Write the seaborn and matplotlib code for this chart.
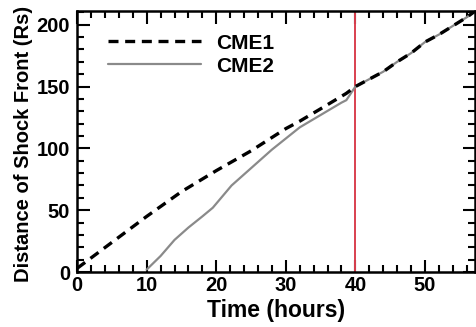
import numpy as np
import pandas as pd
import matplotlib
matplotlib.use("Agg")
import matplotlib.pyplot as plt
from matplotlib.ticker import MultipleLocator
import seaborn as sns

# Shock-front distance (solar radii) versus time since onset (hours)
cme1_time = [0, 5, 10, 15, 20, 25, 30, 32, 35, 38.7, 40, 42, 44, 46, 48, 50, 52, 54, 56, 57.2]
cme1_dist = [3, 24, 45, 65, 82, 98, 116, 122, 132, 144.5, 150, 156, 162, 170, 177, 186, 192, 199, 206, 211]

cme2_time = [10, 12, 14, 16, 18, 19.5, 21, 22.2, 25, 28, 30, 32, 35, 38, 38.7, 40,
             42, 44, 46, 48, 50, 52, 54, 56, 57.2]
cme2_dist = [2, 13, 26, 36, 45, 52, 62, 70, 84, 99, 108, 117, 127, 137, 139, 150,
             156, 162, 170, 177, 186, 192, 199, 206, 211]

arrival_time = 40
x_ticks = [0, 10, 20, 30, 40, 50]
y_ticks = [0, 50, 100, 150, 200]

sns.set_style("ticks", {"axes.edgecolor": "black", "text.color": "black",
                        "axes.labelcolor": "black", "xtick.color": "black",
                        "ytick.color": "black"})
plt.rcParams["font.family"] = ["Liberation Sans", "DejaVu Sans"]
plt.rcParams["font.weight"] = "bold"

df1 = pd.DataFrame({"time": cme1_time, "dist": cme1_dist})
df2 = pd.DataFrame({"time": cme2_time, "dist": cme2_dist})

fig = plt.figure(figsize=(4.76, 3.27), dpi=100)
ax = fig.add_axes([0.162, 0.168, 0.836, 0.798])

sns.lineplot(data=df2, x="time", y="dist", ax=ax, color="#8a8a8a", lw=1.6,
             label="CME2", zorder=2)
sns.lineplot(data=df1, x="time", y="dist", ax=ax, color="black", lw=2.4,
             label="CME1", zorder=3)
ax.lines[1].set_dashes([3.0, 2.0])
ax.axvline(arrival_time, color="#d9404f", lw=1.4, zorder=1)

ax.set_xlim(0, 57.2)
ax.set_ylim(0, 211)
ax.set_xticks(x_ticks)
ax.set_yticks(y_ticks)
ax.xaxis.set_minor_locator(MultipleLocator(2))
ax.yaxis.set_minor_locator(MultipleLocator(10))
ax.tick_params(which="both", direction="in", top=True, right=True,
               labelsize=14.5, width=1.5, colors="black")
ax.tick_params(axis="x", pad=3)
ax.tick_params(axis="y", pad=5)
ax.tick_params(which="major", length=9)
ax.tick_params(which="minor", length=5)
for s in ax.spines.values():
    s.set_linewidth(1.8)
    s.set_color("black")
for lab in ax.get_xticklabels() + ax.get_yticklabels():
    lab.set_fontweight("bold")

ax.set_xlabel("Time (hours)", fontsize=16.5, fontweight="bold", labelpad=3, color="black")
ax.set_ylabel("Distance of Shock Front (Rs)", fontsize=14.5, fontweight="bold",
              labelpad=3, color="black")
ax.yaxis.label.set_y(0.49)

handles, labels = ax.get_legend_handles_labels()
order = [labels.index("CME1"), labels.index("CME2")]
leg = ax.legend([handles[i] for i in order], [labels[i] for i in order],
                loc="upper left", frameon=False, fontsize=15, handlelength=4.5,
                borderaxespad=0.3, bbox_to_anchor=(0.04, 0.97), labelspacing=0.2,
                handletextpad=0.7)
for t in leg.get_texts():
    t.set_fontweight("bold")
    t.set_color("black")

fig.savefig("out.png", dpi=100)
